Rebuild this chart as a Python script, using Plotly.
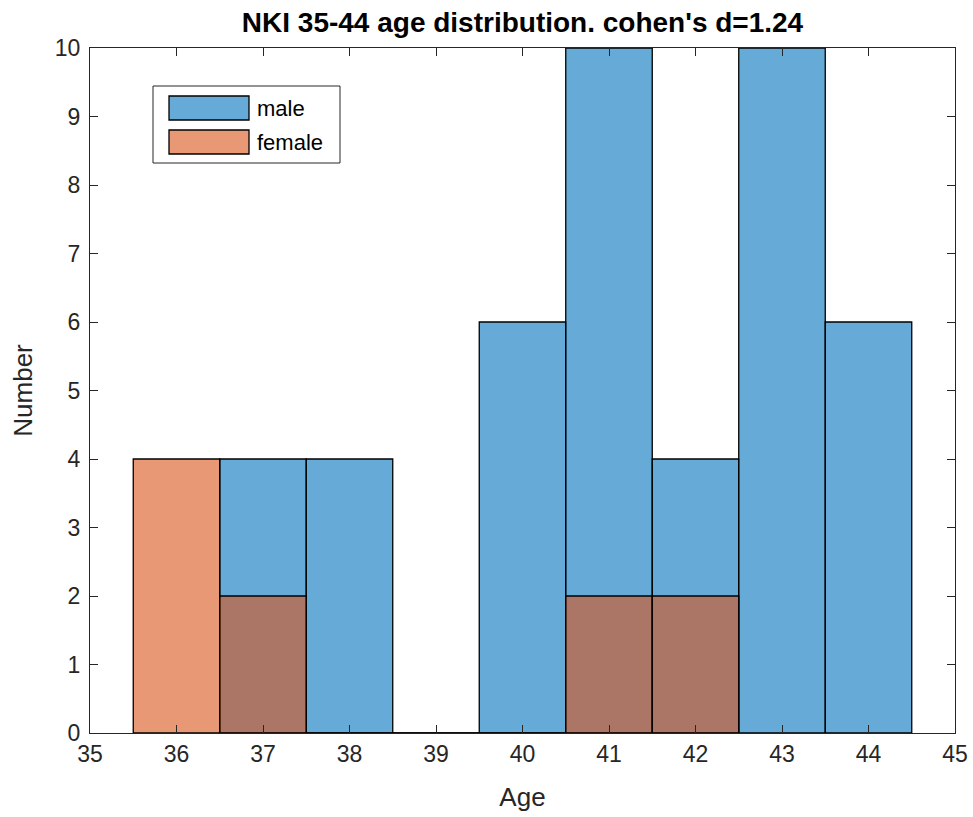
import plotly.graph_objects as go

# Histogram counts per 1-year age bin
male_ages = [37, 38, 39, 40, 41, 42, 43, 44]
male_counts = [4, 4, 0, 6, 10, 4, 10, 6]
female_ages = [36, 37, 38, 39, 40, 41, 42]
female_counts = [4, 2, 0, 0, 0, 2, 2]

x_ticks = list(range(35, 46))
y_ticks = list(range(0, 11))

blue = "rgba(0,114,189,0.6)"
orange = "rgba(217,83,25,0.6)"
axis_col = "#262626"
font_family = "Liberation Sans, Arial, sans-serif"

fig = go.Figure()
fig.add_trace(go.Bar(x=male_ages, y=male_counts, width=1, name="male",
                     marker=dict(color=blue, line=dict(color="black", width=1.3)),
                     showlegend=False))
fig.add_trace(go.Bar(x=female_ages, y=female_counts, width=1, name="female",
                     marker=dict(color=orange, line=dict(color="black", width=1.3)),
                     showlegend=False))

W, H = 973, 817
ml, mr, mt, mb = 90, 18, 48, 84
pw, ph = W - ml - mr, H - mt - mb


def px(xp):
    return (xp - ml) / pw


def py(yp):
    return (H - mb - yp) / ph


# Legend drawn as shapes so the swatches are wide rectangles
shapes = [
    dict(type="rect", xref="paper", yref="paper", x0=px(153), x1=px(340), y0=py(163), y1=py(86),
         line=dict(color=axis_col, width=1), fillcolor="white", layer="above"),
    dict(type="rect", xref="paper", yref="paper", x0=px(169), x1=px(249), y0=py(120), y1=py(96),
         line=dict(color="black", width=1.3), fillcolor=blue, layer="above"),
    dict(type="rect", xref="paper", yref="paper", x0=px(169), x1=px(249), y0=py(154), y1=py(130),
         line=dict(color="black", width=1.3), fillcolor=orange, layer="above"),
]
annotations = [
    dict(xref="paper", yref="paper", x=px(255), y=py(108), text="male", showarrow=False,
         xanchor="left", yanchor="middle", font=dict(size=22, color="black", family=font_family)),
    dict(xref="paper", yref="paper", x=px(255), y=py(142), text="female", showarrow=False,
         xanchor="left", yanchor="middle", font=dict(size=22, color="black", family=font_family)),
]

axis_common = dict(showline=True, linecolor=axis_col, linewidth=1.3, mirror="ticks",
                   ticks="inside", ticklen=8, tickwidth=1.2, tickcolor=axis_col,
                   showgrid=False, zeroline=False, automargin=False,
                   tickfont=dict(size=23, color=axis_col, family=font_family))

fig.update_layout(
    width=W, height=H,
    margin=dict(l=ml, r=mr, t=mt, b=mb),
    barmode="overlay",
    plot_bgcolor="white", paper_bgcolor="white",
    title=dict(text="<b>NKI 35-44 age distribution. cohen's d=1.24</b>", x=(ml + pw / 2) / W,
               xanchor="center", y=1 - 22 / H, yanchor="middle",
               font=dict(size=28, color="black", family=font_family)),
    xaxis=dict(range=[35, 45], tickvals=x_ticks,
               title=dict(text="Age", font=dict(size=26, color=axis_col, family=font_family), standoff=22),
               **axis_common),
    yaxis=dict(range=[0, 10], tickvals=y_ticks, ticklabelstandoff=4,
               title=dict(text="Number", font=dict(size=26, color=axis_col, family=font_family), standoff=14),
               **axis_common),
    shapes=shapes,
    annotations=annotations,
)

fig.write_html("out.html")
